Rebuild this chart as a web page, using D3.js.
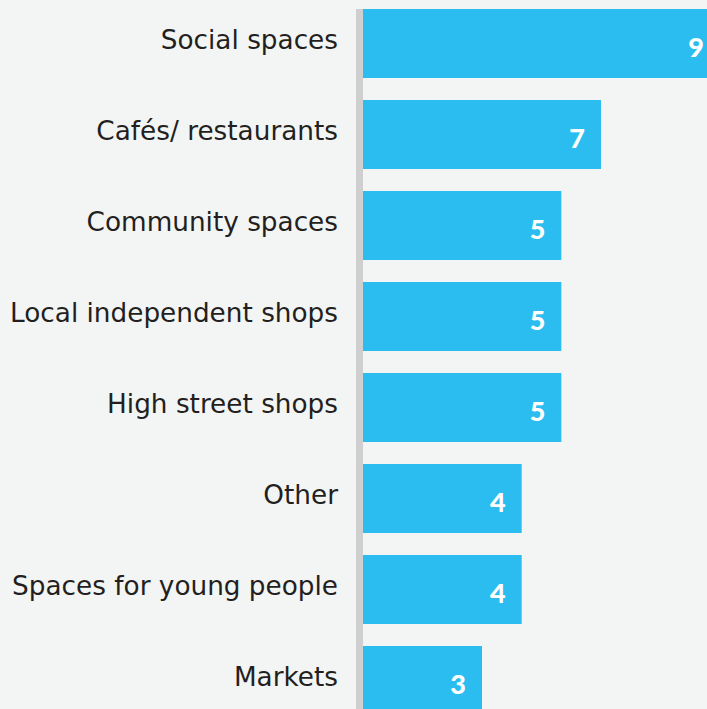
<!DOCTYPE html>
<html lang="en">
<head>
<meta charset="utf-8">
<title>Spaces</title>
<script src="https://d3js.org/d3.v7.min.js"></script>
<style>
  html, body { margin: 0; padding: 0; background: #f3f5f4; }
  svg { display: block; }
  .cat { font: 26.3px "DejaVu Sans", sans-serif; fill: #231f20; text-anchor: end; }
  .val { font: 900 27px Lato, sans-serif; fill: #fff; text-anchor: end; }
</style>
</head>
<body>
<div id="chart"></div>
<script>
// categories, top to bottom
var categories = ["Social spaces", "Cafés/ restaurants", "Community spaces",
  "Local independent shops", "High street shops", "Other",
  "Spaces for young people", "Markets"];
// bar lengths as drawn in the picture
var barValues = [9, 6, 5, 5, 5, 4, 4, 3];
// numbers printed on the bars
var valueLabels = ["9", "7", "5", "5", "5", "4", "4", "3"];

var width = 707, height = 709;

var svg = d3.select("#chart").append("svg")
  .attr("width", width)
  .attr("height", height);

var x = d3.scaleLinear()
  .domain([0, 9])
  .range([363, 720]);

var y = d3.scaleBand()
  .domain(categories)
  .range([9, 715])
  .paddingInner(22 / 91)
  .paddingOuter(0);

var data = categories.map(function(c, i) {
  return { cat: c, value: barValues[i], label: valueLabels[i] };
});

// bars
svg.selectAll(".bar")
  .data(data).enter()
  .append("rect")
  .attr("class", "bar")
  .attr("x", x(0))
  .attr("y", function(d) { return y(d.cat); })
  .attr("width", function(d) { return x(d.value) - x(0); })
  .attr("height", y.bandwidth())
  .attr("fill", "#2bbdef");

// vertical axis line
svg.append("rect")
  .attr("x", x(0) - 7)
  .attr("y", 9)
  .attr("width", 7)
  .attr("height", height)
  .attr("fill", "#cfcfcf");

// category labels
svg.selectAll(".cat")
  .data(data).enter()
  .append("text")
  .attr("class", "cat")
  .attr("x", 338)
  .attr("y", function(d) { return y(d.cat) + y.bandwidth() / 2 + 5; })
  .text(function(d) { return d.cat; });

// value labels inside the bars
svg.selectAll(".val")
  .data(data).enter()
  .append("text")
  .attr("class", "val")
  .attr("x", function(d) { return x(d.value) - 16; })
  .attr("y", function(d) { return y(d.cat) + y.bandwidth() / 2 + 13.5; })
  .text(function(d) { return d.label; });
</script>
</body>
</html>
